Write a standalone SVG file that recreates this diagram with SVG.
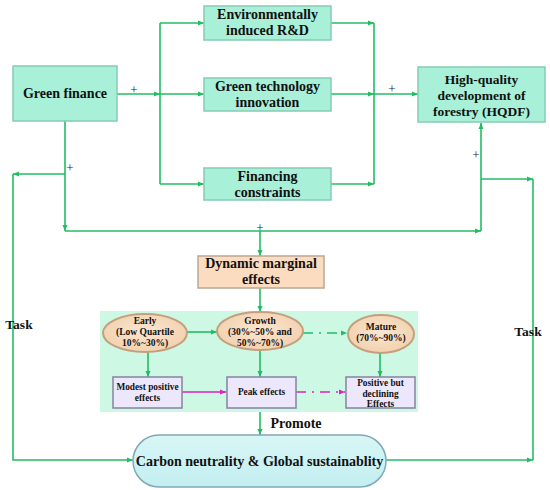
<svg xmlns="http://www.w3.org/2000/svg" width="550" height="490" viewBox="0 0 550 490">
<defs>
<style>
.t{font-family:"Liberation Serif","Times New Roman",serif;font-weight:bold;fill:#111;text-anchor:middle}
.box{fill:#a8f0d8;stroke:#86ccb4;stroke-width:1.5}
.ell{fill:url(#eg);stroke:#c49f7d;stroke-width:2}
.lav{fill:#ede7fb;stroke:#8a8aa6;stroke-width:1.6}
.g{fill:none;stroke:#22bd62;stroke-width:1.6}
.m{fill:none;stroke:#e01fc2;stroke-width:1.6}
.dd{stroke-dasharray:10 6 2 6}
.plus{font-family:"Liberation Serif",serif;font-size:13px;fill:#222;text-anchor:middle}
</style>
<radialGradient id="eg" cx="50%" cy="45%" r="60%">
<stop offset="0" stop-color="#fbe6d0"/>
<stop offset="1" stop-color="#f1cfac"/>
</radialGradient>
<linearGradient id="pg" x1="0" y1="0" x2="0" y2="1">
<stop offset="0" stop-color="#d8f6f6"/>
<stop offset="1" stop-color="#c3eef0"/>
</linearGradient>
<marker id="ag" markerUnits="userSpaceOnUse" markerWidth="7" markerHeight="6" refX="6" refY="3" orient="auto">
<path d="M0,0.5 L6,3 L0,5.5 z" fill="#22bd62"/>
</marker>
<marker id="am" markerUnits="userSpaceOnUse" markerWidth="7" markerHeight="6" refX="6" refY="3" orient="auto">
<path d="M0,0.5 L6,3 L0,5.5 z" fill="#e01fc2"/>
</marker>
</defs>
<rect width="550" height="490" fill="#fff"/>
<rect id="panel" x="100" y="311" width="318" height="101" fill="#ccf8e4"/>

<g id="connectors">
<path class="g" d="M117,94 H160" marker-end="url(#ag)"/>
<path class="g" d="M160,23 V184"/>
<path class="g" d="M160,23 H204" marker-end="url(#ag)"/>
<path class="g" d="M160,94 H204" marker-end="url(#ag)"/>
<path class="g" d="M160,184 H204" marker-end="url(#ag)"/>
<path class="g" d="M331,23 H374" marker-end="url(#ag)"/>
<path class="g" d="M331,94 H374" marker-end="url(#ag)"/>
<path class="g" d="M331,184 H374" marker-end="url(#ag)"/>
<path class="g" d="M374,23 V184"/>
<path class="g" d="M374,94 H418" marker-end="url(#ag)"/>
<path class="g" d="M65,121 V231" marker-end="url(#ag)"/>
<path class="g" d="M65,231 H481" marker-end="url(#ag)"/>
<path class="g" d="M481,231 V123" marker-end="url(#ag)"/>
<path class="g" d="M65,174 H13" marker-end="url(#ag)"/>
<path class="g" d="M13,174 V460 H133" marker-end="url(#ag)"/>
<path class="g" d="M481,179 H533" marker-end="url(#ag)"/>
<path class="g" d="M533,179 V460"/>
<path class="g" d="M386,460 H533" marker-end="url(#ag)"/>
<path class="g" d="M260,231 V256" marker-end="url(#ag)"/>
<path class="g" d="M260,288 V312" marker-end="url(#ag)"/>
<path class="g" d="M187,332 H217" marker-end="url(#ag)"/>
<path class="g dd" d="M303,333 H347" marker-end="url(#ag)"/>
<path class="g" d="M148,352 V377" marker-end="url(#ag)"/>
<path class="g" d="M260,350 V377" marker-end="url(#ag)"/>
<path class="g" d="M380,353 V377" marker-end="url(#ag)"/>
<path class="m" d="M182,392 H226" marker-end="url(#am)"/>
<path class="m dd" d="M296,392 H345" marker-end="url(#am)"/>
<path class="g" d="M260,412 V435" marker-end="url(#ag)"/>
<text class="plus" x="134" y="94">+</text>
<text class="plus" x="70" y="172">+</text>
<text class="plus" x="392" y="93">+</text>
<text class="plus" x="476" y="159">+</text>
<text class="plus" x="260" y="232">+</text>
</g>

<g id="green-finance">
<rect class="box" x="13" y="66" width="104" height="55"/>
<text class="t" x="65" y="98" font-size="14">Green finance</text>
</g>
<g id="env-rd">
<rect class="box" x="204" y="6" width="127" height="34"/>
<text class="t" x="267.5" y="19" font-size="14">Environmentally</text>
<text class="t" x="267.5" y="35" font-size="14">induced R&amp;D</text>
</g>
<g id="green-tech">
<rect class="box" x="204" y="78" width="127" height="33"/>
<text class="t" x="267.5" y="91" font-size="14">Green technology</text>
<text class="t" x="267.5" y="107" font-size="14">innovation</text>
</g>
<g id="financing">
<rect class="box" x="204" y="168" width="127" height="32"/>
<text class="t" x="267.5" y="181" font-size="14">Financing</text>
<text class="t" x="267.5" y="197" font-size="14">constraints</text>
</g>
<g id="hqdf">
<rect class="box" x="418" y="67" width="127" height="55"/>
<text class="t" x="481.5" y="84" font-size="13.5">High-quality</text>
<text class="t" x="481.5" y="100" font-size="13.5">development of</text>
<text class="t" x="481.5" y="116" font-size="13.5">forestry (HQDF)</text>
</g>
<g id="dynamic">
<rect x="198" y="256" width="126" height="32" fill="#fcdcc0" stroke="#b9a897" stroke-width="1.5"/>
<text class="t" x="261" y="268" font-size="14">Dynamic marginal</text>
<text class="t" x="261" y="284" font-size="14">effects</text>
</g>
<g id="early">
<ellipse class="ell" cx="145" cy="333" rx="42" ry="19"/>
<text class="t" x="145" y="324" font-size="9.5">Early</text>
<text class="t" x="145" y="335" font-size="9.5">(Low Quartile</text>
<text class="t" x="145" y="346" font-size="9.5">10%~30%)</text>
</g>
<g id="growth">
<ellipse class="ell" cx="260" cy="331" rx="43" ry="19"/>
<text class="t" x="260" y="324" font-size="9.5">Growth</text>
<text class="t" x="260" y="335" font-size="9.5">(30%~50% and</text>
<text class="t" x="260" y="346" font-size="9.5">50%~70%)</text>
</g>
<g id="mature">
<ellipse class="ell" cx="381" cy="334" rx="33" ry="19"/>
<text class="t" x="381" y="330" font-size="9.5">Mature</text>
<text class="t" x="381" y="341" font-size="9.5">(70%~90%)</text>
</g>
<g id="modest">
<rect class="lav" x="113" y="377" width="69" height="31"/>
<text class="t" x="147.5" y="390" font-size="9.3">Modest positive</text>
<text class="t" x="147.5" y="401" font-size="9.3">effects</text>
</g>
<g id="peak">
<rect class="lav" x="227" y="377" width="69" height="31"/>
<text class="t" x="261.5" y="395" font-size="9.3">Peak effects</text>
</g>
<g id="declining">
<rect class="lav" x="346" y="377" width="69" height="31"/>
<text class="t" x="380.5" y="386" font-size="9.3">Positive but</text>
<text class="t" x="380.5" y="397" font-size="9.3">declining</text>
<text class="t" x="380.5" y="407" font-size="9.3">Effects</text>
</g>
<g id="carbon">
<rect x="133" y="435" width="253" height="52" rx="26" ry="26" fill="url(#pg)" stroke="#7fa8b8" stroke-width="1.5"/>
<text class="t" x="259.5" y="466" font-size="14">Carbon neutrality &amp; Global sustainablity</text>
</g>
<text class="t" x="296" y="428" font-size="14">Promote</text>
<text class="t" x="19" y="329" font-size="13.5">Task</text>
<text class="t" x="528" y="336" font-size="13.5">Task</text>
</svg>
